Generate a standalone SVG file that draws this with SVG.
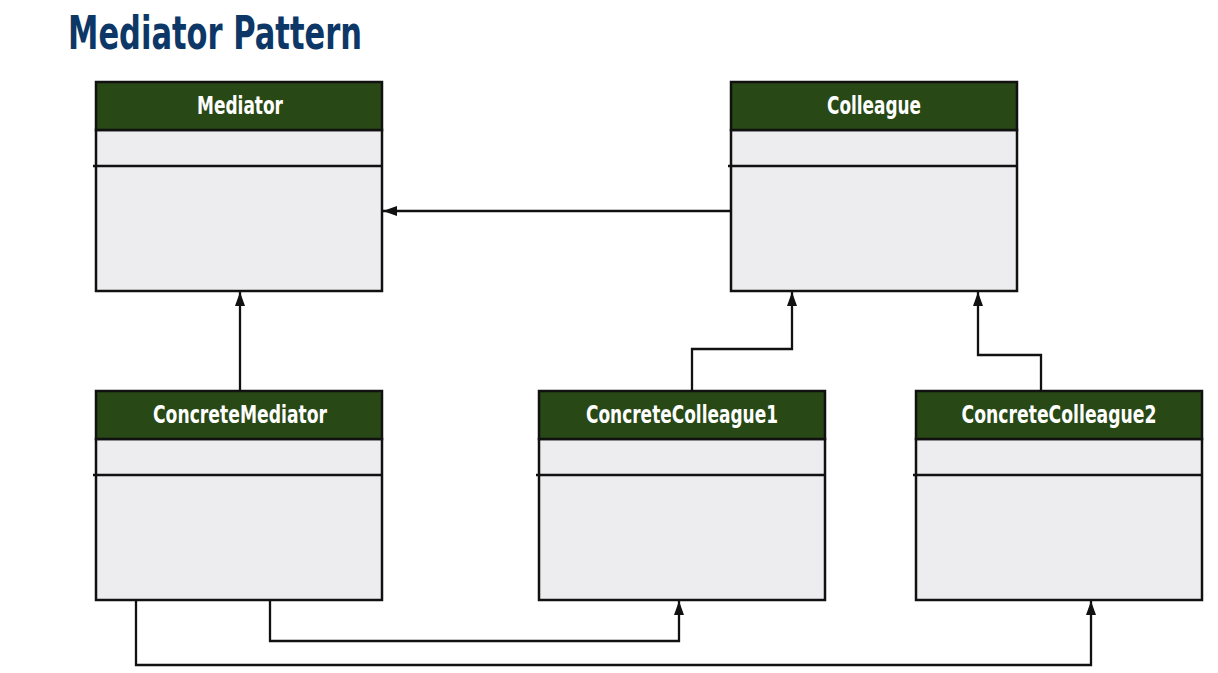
<svg xmlns="http://www.w3.org/2000/svg" width="1218" height="673" viewBox="0 0 1218 673">
<style>
.hdr{fill:#284815;stroke:#111;stroke-width:2.5}
.body{fill:#ededef;stroke:#111;stroke-width:2.5}
.div{stroke:#111;stroke-width:2.5}
.ht{font-family:"DejaVu Sans Condensed","DejaVu Sans","Liberation Sans",sans-serif;font-weight:bold;font-size:24px;fill:#fff;text-anchor:middle}
.title{font-family:"DejaVu Sans Condensed","DejaVu Sans","Liberation Sans",sans-serif;font-weight:bold;font-size:47px;fill:#0d3766}
.conn{fill:none;stroke:#111;stroke-width:2.3}
</style>
<defs>
<marker id="arr" viewBox="0 0 14 10" refX="14" refY="5" markerWidth="14" markerHeight="10" markerUnits="userSpaceOnUse" orient="auto">
<path d="M0,0 L14,5 L0,10 Z" fill="#111"/>
</marker>
</defs>
<rect width="1218" height="673" fill="#fff"/>
<text class="title" x="68" y="49" textLength="294" lengthAdjust="spacingAndGlyphs">Mediator Pattern</text>

<g id="mediator">
<rect class="body" x="96" y="130" width="286" height="161"/>
<rect class="hdr" x="96" y="82" width="286" height="48"/>
<line class="div" x1="93" y1="166" x2="382" y2="166"/>
<text class="ht" x="240" y="114" textLength="86" lengthAdjust="spacingAndGlyphs">Mediator</text>
</g>
<g id="colleague">
<rect class="body" x="731" y="130" width="286" height="161"/>
<rect class="hdr" x="731" y="82" width="286" height="48"/>
<line class="div" x1="728" y1="166" x2="1017" y2="166"/>
<text class="ht" x="874" y="114" textLength="94" lengthAdjust="spacingAndGlyphs">Colleague</text>
</g>
<g id="concreteMediator">
<rect class="body" x="96" y="439" width="286" height="161"/>
<rect class="hdr" x="96" y="391" width="286" height="48"/>
<line class="div" x1="93" y1="475" x2="382" y2="475"/>
<text class="ht" x="240" y="423" textLength="174" lengthAdjust="spacingAndGlyphs">ConcreteMediator</text>
</g>
<g id="concreteColleague1">
<rect class="body" x="539" y="439" width="286" height="161"/>
<rect class="hdr" x="539" y="391" width="286" height="48"/>
<line class="div" x1="536" y1="475" x2="825" y2="475"/>
<text class="ht" x="682" y="423" textLength="192" lengthAdjust="spacingAndGlyphs">ConcreteColleague1</text>
</g>
<g id="concreteColleague2">
<rect class="body" x="916" y="439" width="286" height="161"/>
<rect class="hdr" x="916" y="391" width="286" height="48"/>
<line class="div" x1="913" y1="475" x2="1202" y2="475"/>
<text class="ht" x="1059" y="423" textLength="195" lengthAdjust="spacingAndGlyphs">ConcreteColleague2</text>
</g>

<g id="connectors">
<path class="conn" d="M731,211 L383,211" marker-end="url(#arr)"/>
<path class="conn" d="M240,391 L240,292" marker-end="url(#arr)"/>
<path class="conn" d="M692,391 L692,349 L792,349 L792,292" marker-end="url(#arr)"/>
<path class="conn" d="M1041,391 L1041,355 L978,355 L978,292" marker-end="url(#arr)"/>
<path class="conn" d="M270,601 L270,641 L679,641 L679,601" marker-end="url(#arr)"/>
<path class="conn" d="M136,601 L136,665 L1091,665 L1091,601" marker-end="url(#arr)"/>
</g>
</svg>
